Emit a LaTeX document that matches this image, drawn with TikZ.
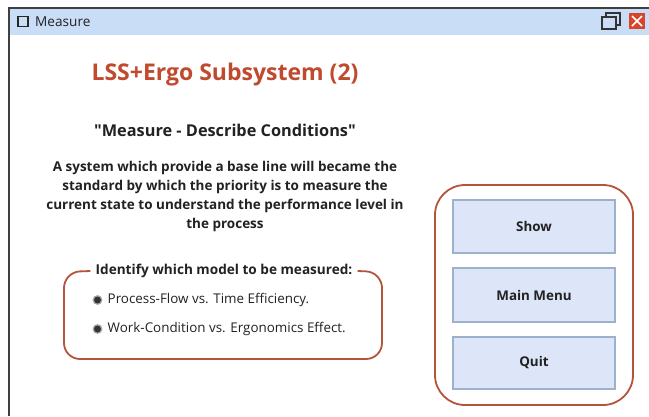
\documentclass[tikz,border=0pt]{standalone}
\usepackage{fontspec}
\setmainfont{Open Sans}
\newfontfamily\plainqfont{Open Sans}
\newcommand{\dq}{{\plainqfont\bfseries\symbol{34}}}
\begin{document}
\begin{tikzpicture}[x=1pt,y=-1pt,
  frameline/.style={draw=black!75, line width=1.2pt},
  redbox/.style={draw=boxred, line width=1.8pt, rounded corners=#1},
  btn/.style={draw=btnline, fill=btnfill, line width=1.6pt},
  btntext/.style={font=\bfseries\fontsize{13.4}{16}\selectfont, text=textgray},
  itemtext/.style={font=\fontsize{13.4}{16}\selectfont, text=textgray, anchor=west, inner sep=0pt},
  bulletdot/.style={circle, fill=black!80, draw=black!35, line width=1.2pt, inner sep=0pt, minimum size=8.5pt}
]
\definecolor{titlebar}{HTML}{C9DDF7}
\definecolor{boxred}{HTML}{B5543B}
\definecolor{titlered}{HTML}{C04A2E}
\definecolor{btnfill}{HTML}{DCE6F8}
\definecolor{btnline}{HTML}{9EB1CC}
\definecolor{textgray}{HTML}{222222}
\definecolor{closered}{HTML}{D9452B}
\useasboundingbox (0,0) rectangle (649,416);
\fill[white] (0,0) rectangle (649,416);
% window
\fill[titlebar] (9,8) rectangle (649,35);
\draw[frameline] (9,416) -- (9,8) -- (649,8);
% title bar icons
\draw[black!85, line width=1.1pt] (18,16.5) rectangle (28,26.5);
\node[anchor=west, inner sep=0pt, font=\fontsize{13.6}{16}\selectfont, text=textgray] (wtitle) at (35,22) {Measure};
\draw[black!80, line width=1.1pt] (606,13) rectangle (620,25);
\fill[titlebar] (601.5,17) rectangle (616,29.5);
\draw[black!80, line width=1.1pt] (602,17) rectangle (616,29);
\node[fill=closered, minimum width=16pt, minimum height=16pt, inner sep=0pt] (closebtn) at (637,21) {};
\draw[white, line width=1.5pt] (632,16) -- (642,26) (642,16) -- (632,26);
% headings
\node[font=\bfseries\fontsize{23}{27}\selectfont, text=titlered] (head) at (225,75) {LSS+Ergo Subsystem (2)};
\node[font=\bfseries\fontsize{16.3}{19}\selectfont, text=textgray] (sub) at (225,130) {\dq Measure - Describe Conditions\dq};
\node[font=\bfseries\fontsize{13.5}{19.2}\selectfont, text=textgray, align=center] (para) at (225,196.5)
  {A system which provide a base line will became the\\standard by which the priority is to measure the\\current state to understand the performance level in\\the process};
% left box
\node[font=\bfseries\fontsize{13.6}{16}\selectfont, text=textgray, fill=white, inner xsep=5pt, inner ysep=2pt] (ident) at (224,271) {Identify which model to be measured:};
\draw[redbox=16pt] (ident.west) -- (64,272) -- (64,359) -- (382,359) -- (382,272) -- (ident.east);
\node[bulletdot] (b1) at (97.5,300) {};
\node[itemtext] (t1) at (107.5,300) {Process-Flow vs. Time Efficiency.};
\node[bulletdot] (b2) at (97.5,329) {};
\node[itemtext] (t2) at (107.5,329) {Work-Condition vs. Ergonomics Effect.};
% right box
\draw[redbox=30pt] (435,185) rectangle (633,405);
\node[btn, minimum width=162pt, minimum height=53pt] (show) at (534,226.5) {};
\node[btntext] at (show) {Show};
\node[btn, minimum width=162pt, minimum height=54pt] (menu) at (534,295) {};
\node[btntext] at (menu) {Main Menu};
\node[btn, minimum width=162pt, minimum height=52pt] (quit) at (534,363) {};
\node[btntext] at (quit) {Quit};
\end{tikzpicture}
\end{document}
